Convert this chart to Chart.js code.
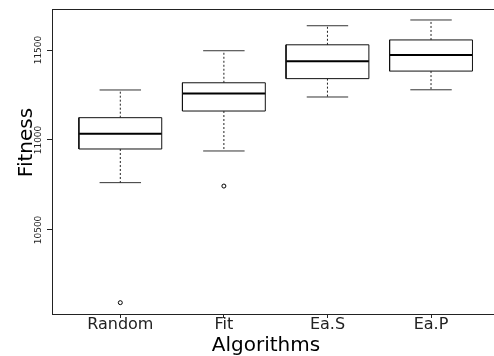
<!DOCTYPE html>
<html>
<head>
<meta charset="utf-8">
<script src="https://cdn.jsdelivr.net/npm/chart.js@4.4.0/dist/chart.umd.min.js"></script>
<style>
  html, body { margin: 0; padding: 0; background: #fff; }
  #wrap { width: 494px; height: 356px; position: relative; }
</style>
</head>
<body>
<div id="wrap"><canvas id="c" width="494" height="356"></canvas></div>
<script>
// ---- data ----
const categories = ['Random', 'Fit', 'Ea.S', 'Ea.P'];
const whiskerLow  = [10763, 10939, 11239, 11279];
const q1          = [10950, 11161, 11341, 11383];
const median      = [11035, 11259, 11437, 11472];
const q3          = [11124, 11318, 11529, 11556];
const whiskerHigh = [11278, 11496, 11635, 11667];
const outliers    = [[10096], [10744], [], []];
const yTickValues = [10500, 11000, 11500];
const yTitle = 'Fitness';
const xTitle = 'Algorithms';

const BOX_HALF = 0.4, CAP_HALF = 0.2;
const FONT = '"DejaVu Sans", sans-serif';

const boxPts = [], medPts = [], whiskPts = [], capPts = [], outPts = [];
categories.forEach((c, i) => {
  const x = i + 1;
  boxPts.push({x: x - BOX_HALF, y: q1[i]}, {x: x + BOX_HALF, y: q1[i]},
              {x: x + BOX_HALF, y: q3[i]}, {x: x - BOX_HALF, y: q3[i]},
              {x: x - BOX_HALF, y: q1[i]}, {x: x, y: null});
  medPts.push({x: x - BOX_HALF, y: median[i]}, {x: x + BOX_HALF, y: median[i]}, {x: x, y: null});
  whiskPts.push({x: x, y: q3[i]}, {x: x, y: whiskerHigh[i]}, {x: x, y: null},
                {x: x, y: q1[i]}, {x: x, y: whiskerLow[i]}, {x: x, y: null});
  capPts.push({x: x - CAP_HALF, y: whiskerHigh[i]}, {x: x + CAP_HALF, y: whiskerHigh[i]}, {x: x, y: null},
              {x: x - CAP_HALF, y: whiskerLow[i]}, {x: x + CAP_HALF, y: whiskerLow[i]}, {x: x, y: null});
  outliers[i].forEach(v => outPts.push({x: x, y: v}));
});

const lineDs = (data, extra) => Object.assign({
  data, showLine: true, spanGaps: false, pointRadius: 0, pointHoverRadius: 0,
  borderColor: '#111', borderWidth: 1, fill: false, tension: 0,
  borderJoinStyle: 'miter', borderCapStyle: 'butt'
}, extra);

const textPlugin = {
  id: 'axisText',
  afterDraw(chart) {
    const ctx = chart.ctx;
    const ys = chart.scales.y;
    ctx.save();
    ctx.fillStyle = '#222';
    ctx.font = '9px ' + FONT;
    ctx.textAlign = 'center';
    ctx.textBaseline = 'alphabetic';
    yTickValues.forEach(v => {
      ctx.save();
      ctx.translate(41, ys.getPixelForValue(v));
      ctx.rotate(-Math.PI / 2);
      ctx.fillText(String(v), 0, 0);
      ctx.restore();
    });
    ctx.fillStyle = '#000';
    ctx.font = '20px ' + FONT;
    ctx.save();
    ctx.translate(32, 142.5);
    ctx.rotate(-Math.PI / 2);
    ctx.fillText(yTitle, 0, 0);
    ctx.restore();
    ctx.fillText(xTitle, 266, 351);
    ctx.restore();
  }
};

new Chart(document.getElementById('c'), {
  type: 'scatter',
  data: {
    datasets: [
      lineDs(whiskPts, {borderDash: [2, 2], borderColor: '#222'}),
      lineDs(capPts, {borderColor: '#333'}),
      lineDs(boxPts, {borderColor: '#111'}),
      lineDs(medPts, {borderColor: '#000', borderWidth: 2}),
      {data: outPts, showLine: false, pointStyle: 'circle', pointRadius: 2, pointHoverRadius: 0,
       pointBorderWidth: 1, pointBorderColor: '#000', pointBackgroundColor: 'rgba(255,255,255,0)'}
    ]
  },
  options: {
    responsive: false,
    animation: false,
    events: [],
    layout: {autoPadding: false, padding: {top: 9, right: 0, left: 0, bottom: 0}},
    plugins: {legend: {display: false}, tooltip: {enabled: false}, title: {display: false}},
    scales: {
      x: {
        type: 'linear', position: 'bottom', min: 0.3405, max: 4.608,
        afterBuildTicks: s => { s.ticks = categories.map((c, i) => ({value: i + 1})); },
        afterFit: s => { s.height = 42; s.paddingLeft = 0; s.paddingRight = 0; },
        ticks: {callback: v => categories[v - 1] || '', font: {family: FONT, size: 16},
                color: '#222', padding: -3, autoSkip: false, maxRotation: 0, minRotation: 0},
        grid: {display: true, drawOnChartArea: false, drawTicks: true, tickLength: 4, color: '#222'},
        border: {display: true, color: '#222', width: 1}
      },
      xTop: {
        type: 'linear', position: 'top', min: 0, max: 1,
        afterFit: s => { s.height = 0; s.paddingLeft = 0; s.paddingRight = 0; },
        ticks: {display: false},
        grid: {display: false},
        border: {display: true, color: '#222', width: 1}
      },
      y: {
        type: 'linear', position: 'left', min: 10033, max: 11728,
        afterBuildTicks: s => { s.ticks = yTickValues.map(v => ({value: v})); },
        afterFit: s => { s.width = 52; s.paddingTop = 0; s.paddingBottom = 0; },
        ticks: {display: false},
        grid: {display: true, drawOnChartArea: false, drawTicks: true, tickLength: 5, color: '#222'},
        border: {display: true, color: '#222', width: 1}
      }
    }
  },
  plugins: [textPlugin]
});
</script>
</body>
</html>
